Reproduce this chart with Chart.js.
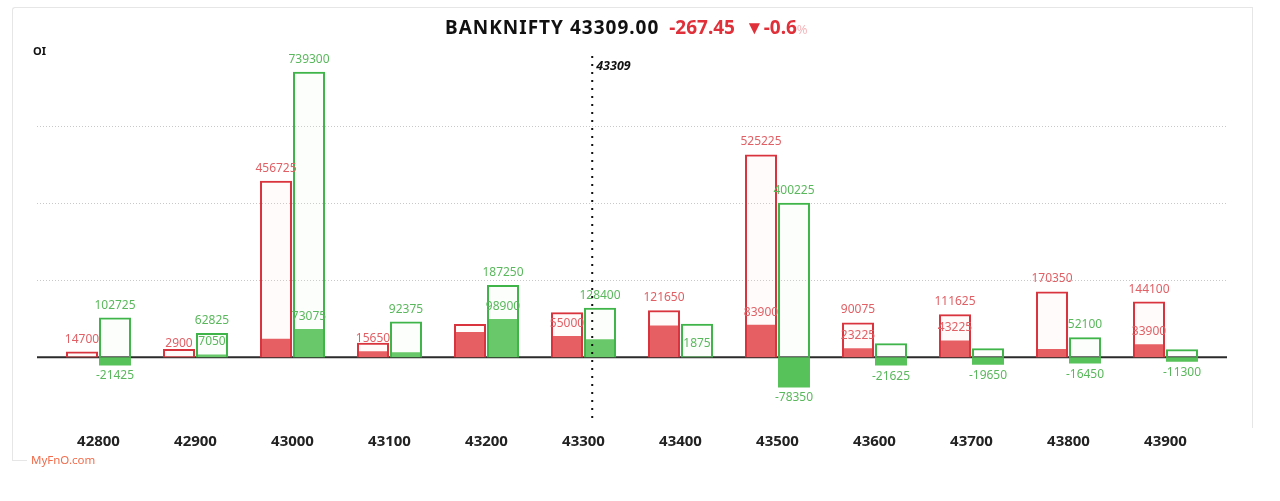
<!DOCTYPE html>
<html>
<head>
<meta charset="utf-8">
<script src="https://cdn.jsdelivr.net/npm/chart.js@4.4.0/dist/chart.umd.min.js"></script>
<style>
  body { margin: 0; background: #fff; font-family: "Noto Sans", sans-serif; }
  #wrap { position: relative; width: 1280px; height: 501px; overflow: hidden; }
  #card { position: absolute; left: 12px; top: 7px; width: 1240px; height: 453px;
          border: 1px solid #e6e6e6; border-bottom: none; border-right: none; border-radius: 3px 0 0 0; }
  #cardRight { position: absolute; left: 1252px; top: 7px; width: 1px; height: 421px; background: #e6e6e6; }
  #cardFoot { position: absolute; left: 12px; top: 460px; width: 15px; height: 1px; background: #e6e6e6; }
  #title { position: absolute; top: 14px; left: 445px; text-align: left;
           font: 700 19px "Noto Sans", sans-serif; color: #111; white-space: pre; }
  #title .sym { letter-spacing: 1px; }
  #title .neg { color: #e0303a; }
  #title .pct { color: #f4b8bc; font-weight: 400; font-size: 13px; }
  #oi { position: absolute; left: 33px; top: 43px; font: 700 11px "Noto Sans", sans-serif; color: #111; }
  #brand { position: absolute; left: 31px; top: 452px; font: 400 11.5px "Noto Sans", sans-serif; color: #f26b4a; }
  canvas { position: absolute; left: 0; top: 0; }
</style>
</head>
<body>
<div id="wrap">
  <div id="card"></div>
  <div id="cardRight"></div>
  <div id="cardFoot"></div>
  <canvas id="oiChart" width="1280" height="501"></canvas>
  <div id="title"></div>
  <div id="oi">OI</div>
  <div id="brand">MyFnO.com</div>
</div>
<script>
// index quote
const symbol = 'BANKNIFTY';
const spot = 43309.00;
const spotChange = -267.45;
const spotPct = -0.6;

// strikes on the x axis
const strikes = [42800, 42900, 43000, 43100, 43200, 43300, 43400, 43500, 43600, 43700, 43800, 43900];

// call side: open interest and change in OI
const callOI = [14700, 21350, 456725, 37400, 86325, 116750, 121650, 525225, 90075, 111625, 170350, 144100];
const callChg = [1800, 2900, 47650, 15650, 65700, 55000, 82300, 83900, 23225, 43225, 21600, 33900];

// put side: open interest and change in OI
const putOI = [102725, 62825, 739300, 92375, 187250, 128400, 86600, 400225, 36400, 23400, 52100, 20800];
const putChg = [-21425, 7050, 73075, 12975, 98900, 46725, 1875, -78350, -21625, -19650, -16450, -11300];

// which value labels survive the overlap check in the original
const callOIShown = [1, 0, 1, 0, 0, 0, 1, 1, 1, 1, 1, 1];
const callChgShown = [0, 1, 0, 1, 0, 1, 0, 1, 1, 1, 0, 1];
const putOIShown = [1, 1, 1, 1, 1, 1, 0, 1, 0, 0, 1, 0];
const putChgShown = [1, 1, 1, 0, 1, 0, 1, 1, 1, 1, 1, 1];

// dotted reference lines
const yGridValues = [200000, 400000, 600000];
const yMin = -165000;
const yMax = 780000;

const RED_LINE = '#d9343d';
const RED_FILL = '#e34f52';
const RED_TEXT = '#e06065';
const GREEN_LINE = '#3fb549';
const GREEN_FILL = '#58c25a';
const GREEN_TEXT = '#5ab85c';

document.getElementById('title').innerHTML =
    '<span class="sym">' + symbol + ' ' + spot.toFixed(2) + '</span>  <span class="neg">' + spotChange.toFixed(2) +
    '</span>  <span class="neg">&#9660;' + spotPct + '</span><span class="pct">%</span>';

// grid + zero line, a bit wider than the bar area like the original
const gridPlugin = {
    id: 'gridLines',
    beforeDatasetsDraw(chart) {
        const { ctx, chartArea, scales } = chart;
        const l = chartArea.left - 13, r = chartArea.right + 13;
        ctx.save();
        ctx.strokeStyle = '#c8c8c8';
        ctx.lineWidth = 1;
        ctx.setLineDash([1, 2]);
        yGridValues.forEach(v => {
            const y = Math.round(scales.y.getPixelForValue(v)) + 0.5;
            ctx.beginPath();
            ctx.moveTo(l, y);
            ctx.lineTo(r, y);
            ctx.stroke();
        });
        ctx.setLineDash([]);
        ctx.strokeStyle = '#2b2b2b';
        ctx.lineWidth = 2;
        const y0 = scales.y.getPixelForValue(0);
        ctx.beginPath();
        ctx.moveTo(l, y0);
        ctx.lineTo(r, y0);
        ctx.stroke();
        ctx.restore();
    }
};

// value labels above / below each bar
const labelPlugin = {
    id: 'barLabels',
    afterDatasetsDraw(chart) {
        const { ctx } = chart;
        ctx.save();
        ctx.font = '12px "Noto Sans", sans-serif';
        ctx.textAlign = 'center';
        ctx.textBaseline = 'middle';
        chart.data.datasets.forEach((ds, di) => {
            const meta = chart.getDatasetMeta(di);
            ctx.fillStyle = ds.labelColor;
            meta.data.forEach((bar, i) => {
                if (!ds.shown[i]) return;
                const v = ds.data[i];
                const y = v >= 0 ? bar.y - 12.5 : bar.y + 10.5;
                ctx.fillText(String(v), bar.x, y);
            });
        });
        ctx.restore();
    }
};

// spot marker
const spotPlugin = {
    id: 'spotLine',
    afterDatasetsDraw(chart) {
        const { ctx, chartArea, scales } = chart;
        const idx = (spot - strikes[0]) / (strikes[1] - strikes[0]);
        const x = scales.x.getPixelForValue(idx);
        ctx.save();
        ctx.strokeStyle = '#111';
        ctx.lineWidth = 2;
        ctx.setLineDash([2, 6]);
        ctx.beginPath();
        ctx.moveTo(x, chartArea.top);
        ctx.lineTo(x, chartArea.bottom);
        ctx.stroke();
        ctx.font = 'italic 700 12.5px "Noto Sans", sans-serif';
        ctx.fillStyle = '#111';
        ctx.textBaseline = 'middle';
        ctx.fillText(String(Math.round(spot)), x + 4, chartArea.top + 10);
        ctx.restore();
    }
};

const ctx = document.getElementById('oiChart').getContext('2d');
const oiChart = new Chart(ctx, {
    type: 'bar',
    data: {
        labels: strikes.map(String),
        datasets: [
            {
                label: 'Call OI Change', data: callChg, stack: 'call', order: 2,
                backgroundColor: RED_FILL, borderWidth: 0,
                shown: callChgShown, labelColor: RED_TEXT
            },
            {
                label: 'Call OI', data: callOI, stack: 'call', order: 1,
                backgroundColor: 'rgba(255, 225, 225, 0.12)', borderColor: RED_LINE, borderWidth: 2,
                shown: callOIShown, labelColor: RED_TEXT
            },
            {
                label: 'Put OI Change', data: putChg, stack: 'put', order: 2,
                backgroundColor: GREEN_FILL, borderWidth: 0,
                shown: putChgShown, labelColor: GREEN_TEXT
            },
            {
                label: 'Put OI', data: putOI, stack: 'put', order: 1,
                backgroundColor: 'rgba(225, 245, 225, 0.12)', borderColor: GREEN_LINE, borderWidth: 2,
                shown: putOIShown, labelColor: GREEN_TEXT
            }
        ]
    },
    options: {
        responsive: false,
        animation: false,
        categoryPercentage: 0.68,
        barPercentage: 0.97,
        layout: {
            padding: { left: 50, right: 66, top: 56, bottom: 38 }
        },
        plugins: {
            legend: { display: false },
            tooltip: { enabled: false }
        },
        scales: {
            x: {
                grid: { display: false, drawTicks: false },
                border: { display: false },
                ticks: {
                    color: '#222',
                    padding: 12,
                    font: { family: 'Noto Sans', size: 15, weight: 'bold' }
                }
            },
            y: {
                display: false,
                stacked: false,
                min: yMin,
                max: yMax
            }
        }
    },
    plugins: [gridPlugin, labelPlugin, spotPlugin]
});
</script>
</body>
</html>
